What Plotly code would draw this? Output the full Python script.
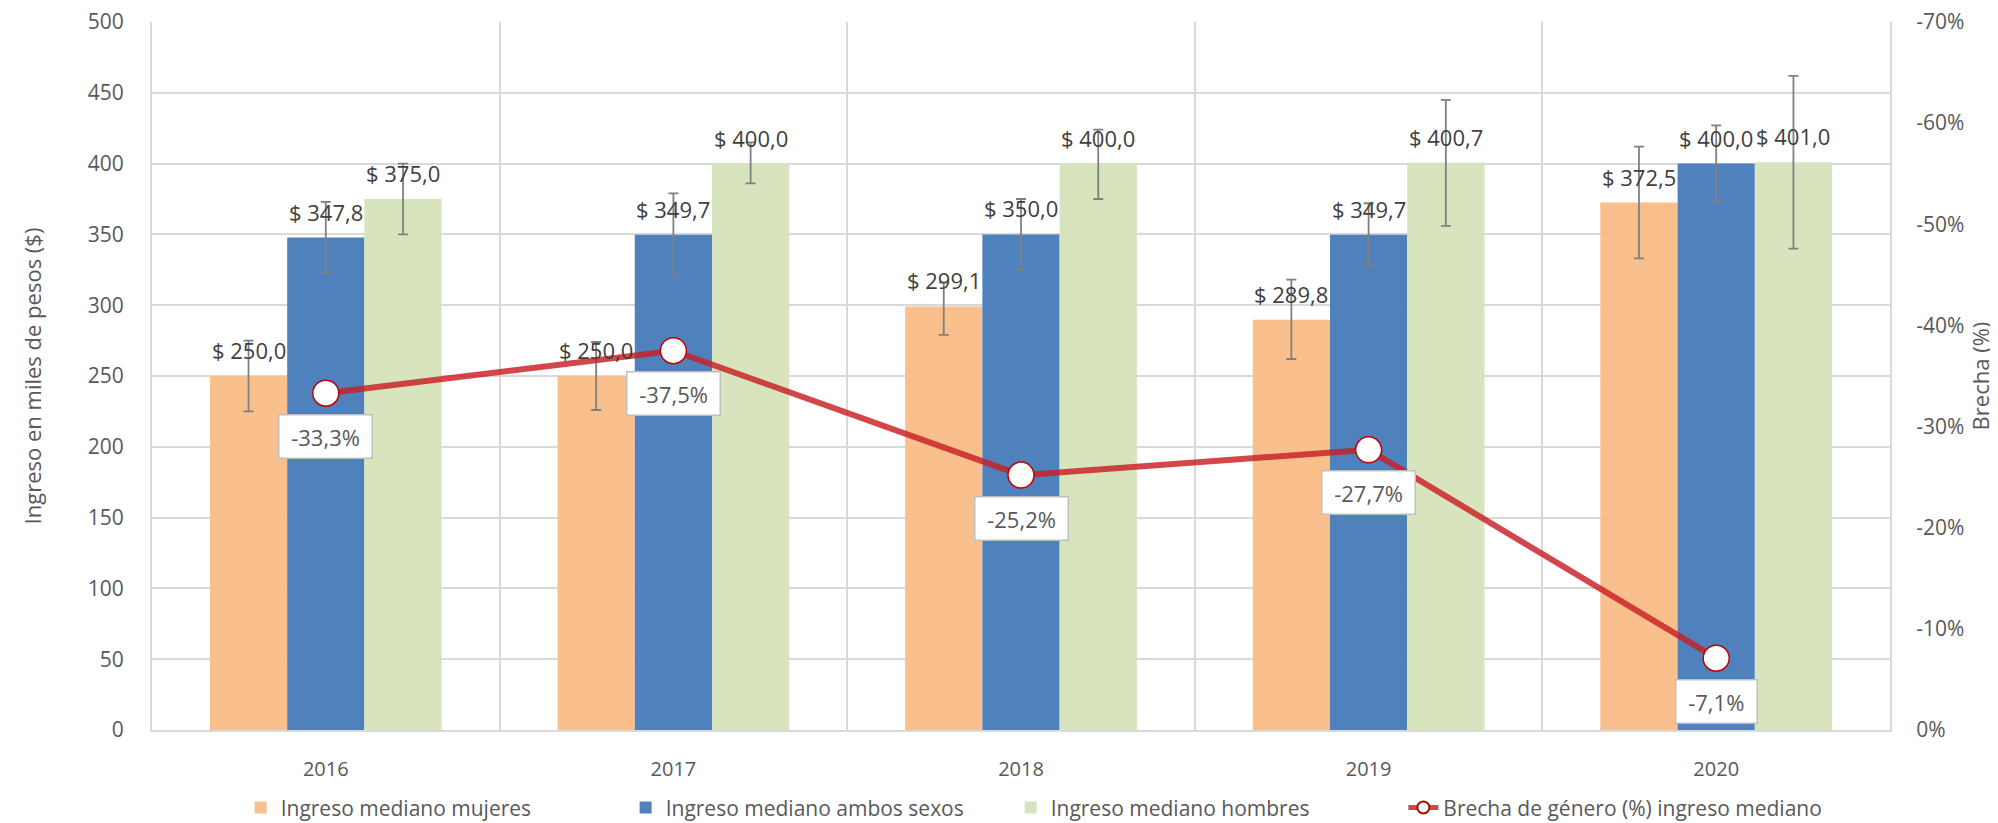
import plotly.graph_objects as go

years = ["2016", "2017", "2018", "2019", "2020"]

mujeres = [250.0, 250.0, 299.1, 289.8, 372.5]
ambos = [347.8, 349.7, 350.0, 349.7, 400.0]
hombres = [375.0, 400.0, 400.0, 400.7, 401.0]
brecha = [-0.333, -0.375, -0.252, -0.277, -0.071]

# limites de los intervalos
mujeres_hi = [275, 274, 316, 318, 412]
mujeres_lo = [225, 226, 279, 262, 333]
ambos_hi = [373, 379, 375, 372, 427]
ambos_lo = [323, 321, 325, 328, 373]
hombres_hi = [400, 415, 424, 445, 462]
hombres_lo = [350, 386, 375, 356, 340]

y2_vals = [0, -0.1, -0.2, -0.3, -0.4, -0.5, -0.6, -0.7]
y2_text = ["0%", "-10%", "-20%", "-30%", "-40%", "-50%", "-60%", "-70%"]

FONT = "Open Sans"
GRID = "#d9d9d9"
TXT = "#595959"
NB = "\u00a0"


def err(vals, hi, lo):
    return dict(type="data", symmetric=False,
                array=[h - v for h, v in zip(hi, vals)],
                arrayminus=[v - l for l, v in zip(lo, vals)],
                color="#808080", thickness=1.8, width=5)


def money(v):
    return "$ " + f"{v:.1f}".replace(".", ",")


def pct(v):
    return f"{v * 100:.1f}".replace(".", ",") + "%"


fig = go.Figure()
series = [
    ("Ingreso mediano mujeres", mujeres, mujeres_hi, mujeres_lo, "#F9C08E"),
    ("Ingreso mediano ambos sexos", ambos, ambos_hi, ambos_lo, "#4F81BD"),
    ("Ingreso mediano hombres", hombres, hombres_hi, hombres_lo, "#D7E4BD"),
]
for name, vals, hi, lo, col in series:
    fig.add_trace(go.Bar(
        x=years, y=vals, name=name, marker_color=col, marker_line_width=0,
        error_y=err(vals, hi, lo), hoverinfo="skip", legend="legend",
    ))

fig.add_trace(go.Scatter(
    x=years, y=brecha, yaxis="y2", mode="lines+markers",
    name="Brecha de género (%) ingreso mediano", legend="legend2",
    line=dict(color="rgba(200,30,35,0.82)", width=6),
    marker=dict(size=26, color="white", line=dict(color="#c00000", width=1.5)),
))

bargap = 1 / 3
bw = (1 - bargap) / 3
annotations = []
for k, (name, vals, hi, lo, col) in enumerate(series):
    for i, v in enumerate(vals):
        annotations.append(dict(
            x=i + (k - 1) * bw, y=v, xref="x", yref="y", text=money(v),
            showarrow=False, yanchor="middle", yshift=26,
            font=dict(family=FONT, size=22, color="#404040"),
        ))
for i, v in enumerate(brecha):
    annotations.append(dict(
        x=i, y=v, xref="x", yref="y2", text=NB + pct(v) + NB,
        showarrow=False, yanchor="middle", yshift=-43, bgcolor="white",
        bordercolor="#bfbfbf", borderwidth=1.5, borderpad=6,
        font=dict(family=FONT, size=22, color=TXT),
    ))
# titulo del eje derecho
annotations.append(dict(
    x=1.052, y=0.5, xref="paper", yref="paper", text="Brecha (%)",
    textangle=-90, showarrow=False, xanchor="center", yanchor="middle",
    font=dict(family=FONT, size=22, color=TXT),
))

legend_common = dict(orientation="h", yanchor="bottom", y=-0.139,
                     itemsizing="constant", bgcolor="rgba(0,0,0,0)",
                     font=dict(family=FONT, size=21, color=TXT))

# la pagina deja 8 px de margen, por eso la figura es algo menor que la ventana
fig.update_layout(
    width=1990, height=815,
    margin=dict(l=144, r=108, t=14, b=93, autoexpand=False),
    paper_bgcolor="white", plot_bgcolor="white",
    barmode="group", bargap=bargap, bargroupgap=0,
    font=dict(family=FONT, size=20, color=TXT),
    annotations=annotations,
    showlegend=True,
    legend=dict(x=0.051, xanchor="left", entrywidth=340,
                traceorder="normal", **legend_common),
    legend2=dict(x=0.72, xanchor="left", **legend_common),
    xaxis=dict(type="category", tickson="boundaries", showgrid=True,
               gridcolor=GRID, gridwidth=1.5, showline=True, linecolor=GRID,
               linewidth=2, ticks="", ticklabelstandoff=20, automargin=False,
               tickfont=dict(size=20, color=TXT)),
    yaxis=dict(range=[0, 500], tickvals=list(range(0, 501, 50)),
               showgrid=True, gridcolor=GRID, gridwidth=1.5, zeroline=False,
               showline=True, linecolor=GRID, linewidth=2, ticks="",
               ticklabelstandoff=22, tickfont=dict(size=21, color=TXT),
               automargin=False, ticklabeloverflow="allow",
               title=dict(text="Ingreso en miles de pesos ($)", standoff=40,
                          font=dict(size=22, color=TXT))),
    yaxis2=dict(overlaying="y", side="right", range=[0, -0.7],
                tickvals=y2_vals, ticktext=y2_text, showgrid=False,
                zeroline=False, showline=True, linecolor=GRID, linewidth=2,
                ticks="", ticklabelstandoff=20, automargin=False,
                ticklabeloverflow="allow",
                tickfont=dict(size=21, color=TXT)),
)

fig.write_html("out.html")
